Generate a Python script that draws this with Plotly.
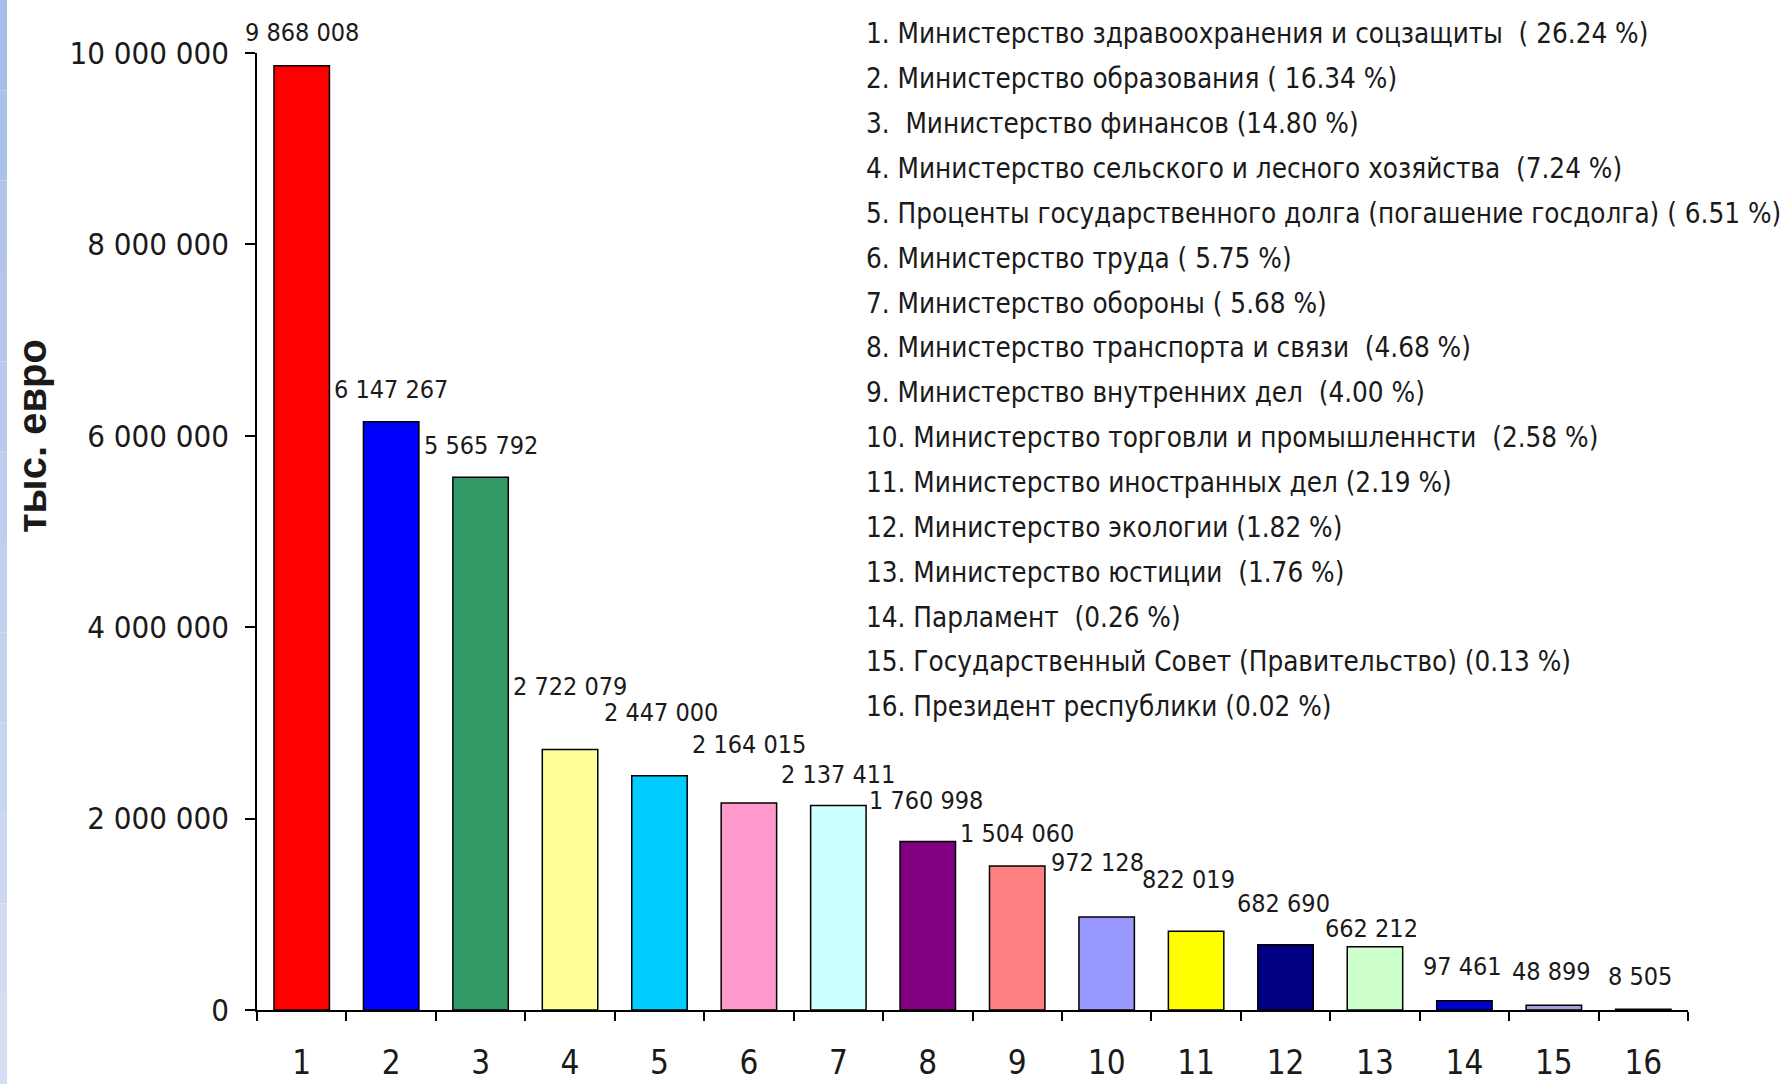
import plotly.graph_objects as go

# Budget expenditure by ministry, thousand euro
categories = [str(i) for i in range(1, 17)]
values = [9868008, 6147267, 5565792, 2722079, 2447000, 2164015, 2137411, 1760998,
          1504060, 972128, 822019, 682690, 662212, 97461, 48899, 8505]
legend_lines = [
    "1. Министерство здравоохранения и соцзащиты\u00a0\u00a0( 26.24 %)",
    "2. Министерство образования ( 16.34 %)",
    "3.\u00a0\u00a0Министерство финансов (14.80 %)",
    "4. Министерство сельского и лесного хозяйства\u00a0\u00a0(7.24 %)",
    "5. Проценты государственного долга (погашение госдолга) ( 6.51 %)",
    "6. Министерство труда ( 5.75 %)",
    "7. Министерство обороны ( 5.68 %)",
    "8. Министерство транспорта и связи\u00a0\u00a0(4.68 %)",
    "9. Министерство внутренних дел\u00a0\u00a0(4.00 %)",
    "10. Министерство торговли и промышленнсти\u00a0\u00a0(2.58 %)",
    "11. Министерство иностранных дел (2.19 %)",
    "12. Министерство экологии (1.82 %)",
    "13. Министерство юстиции\u00a0\u00a0(1.76 %)",
    "14. Парламент\u00a0\u00a0(0.26 %)",
    "15. Государственный Совет (Правительство) (0.13 %)",
    "16. Президент республики (0.02 %)",
]
y_ticks = [0, 2000000, 4000000, 6000000, 8000000, 10000000]
y_title = "тыс. евро"

bar_colors = ["#ff0000", "#0000ff", "#339966", "#ffff99", "#00ccff", "#ff99cc",
              "#ccffff", "#800080", "#ff8080", "#9999ff", "#ffff00", "#000080",
              "#ccffcc", "#0000cc", "#a99fdc", "#9999ff"]

# label placement above each bar (pixels)
label_dy = [33, 32, 32, 63, 63, 58, 31, 41, 33, 54, 52, 41, 18, 34, 34, 33]
label_dx = [0, 0, 0, 0, 2, 0, 0, -2, 0, -9, -8, -2, -3, -2, -2, -3]

NARROW = "DejaVu Sans Condensed, Liberation Sans Narrow, Arial Narrow, sans-serif"
TXT = "#1a1a1a"

W, H = 1788, 1084
L, R, T, B = 257, 100, 53, 74
PW, PH = W - L - R, H - T - B


def px_x(p):
    return (p - L) / PW


def px_y(p):
    return (H - B - p) / PH


fig = go.Figure(go.Bar(
    x=categories, y=values,
    marker=dict(color=bar_colors, line=dict(color="#000000", width=1.5)),
    hoverinfo="x+y",
))

annotations = []
for i, v in enumerate(values):
    # category axis: annotation x given as category index
    annotations.append(dict(
        x=i, y=v, xref="x", yref="y",
        text=f"{v:,}".replace(",", " "),
        showarrow=False, yanchor="middle", xanchor="center",
        yshift=label_dy[i], xshift=label_dx[i],
        font=dict(family=NARROW, size=25, color=TXT),
    ))

for i, line in enumerate(legend_lines):
    annotations.append(dict(
        x=px_x(864), y=px_y(34 + i * 44.85), xref="paper", yref="paper",
        text=line, showarrow=False, xanchor="left", yanchor="middle",
        font=dict(family=NARROW, size=27.6, color=TXT),
    ))

annotations.append(dict(
    x=px_x(32), y=px_y(436), xref="paper", yref="paper",
    text=f"<b>{y_title}</b>", textangle=-90, showarrow=False,
    xanchor="center", yanchor="middle",
    font=dict(family="Liberation Sans, Arial, sans-serif", size=40, color=TXT),
))

# pale blue strip along the left edge, lighter towards the bottom
shapes = []
n_bands = 12
top_rgb = (168, 190, 232)
bot_rgb = (212, 222, 242)
for k in range(n_bands):
    t = k / (n_bands - 1)
    col = tuple(round(a + (b - a) * t) for a, b in zip(top_rgb, bot_rgb))
    y0 = k * H / n_bands
    y1 = (k + 1) * H / n_bands
    shapes.append(dict(
        type="rect", xref="paper", yref="paper",
        x0=px_x(0), x1=px_x(7), y0=px_y(y1), y1=px_y(y0),
        fillcolor="rgb(%d,%d,%d)" % col, line=dict(width=0), layer="below",
    ))

fig.update_layout(
    width=W, height=H,
    margin=dict(l=L, r=R, t=T, b=B, pad=0, autoexpand=False),
    paper_bgcolor="#ffffff", plot_bgcolor="#ffffff",
    bargap=0.38, showlegend=False,
    separators=". ",
    annotations=annotations, shapes=shapes,
    xaxis=dict(
        type="category", range=[-0.5, len(categories) - 0.5], automargin=False,
        showline=True, linecolor="#000000", linewidth=1.5,
        ticks="outside", tickson="boundaries", ticklen=9, tickwidth=1.5,
        tickcolor="#000000", showgrid=False, zeroline=False,
        tickfont=dict(family=NARROW, size=33, color=TXT),
        ticklabelstandoff=23,
    ),
    yaxis=dict(
        range=[0, 10000000], tickvals=y_ticks, tickformat=",d", automargin=False,
        showline=True, linecolor="#000000", linewidth=1.5,
        ticks="outside", ticklen=10, tickwidth=1.5, tickcolor="#000000",
        showgrid=False, zeroline=False,
        tickfont=dict(family=NARROW, size=31, color=TXT),
        ticklabelstandoff=10,
    ),
)

fig.write_html("out.html")
